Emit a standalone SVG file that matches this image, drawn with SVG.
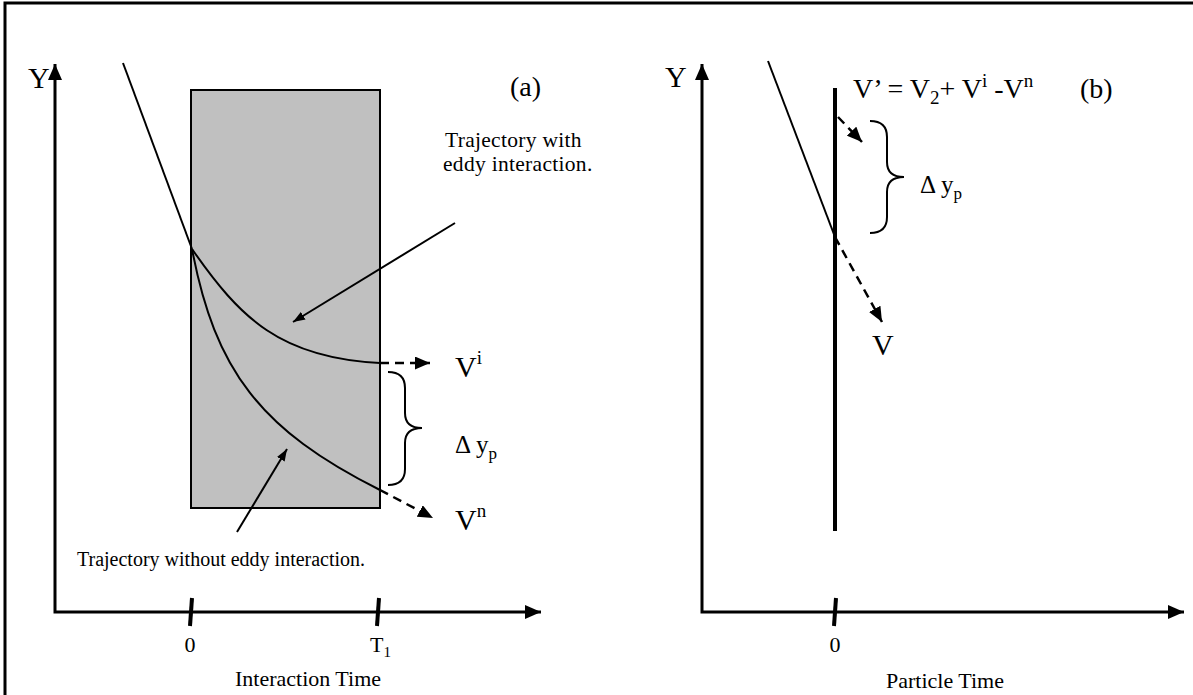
<svg xmlns="http://www.w3.org/2000/svg" width="1193" height="695" viewBox="0 0 1193 695">
<style>
.t{font-family:"Liberation Serif","Times New Roman",serif;fill:#000}
.ax{stroke:#000;stroke-width:3;fill:none}
.ln{stroke:#000;stroke-width:2;fill:none}
.ds{stroke:#000;stroke-width:2.5;fill:none;stroke-dasharray:9,6}
.tk{stroke:#000;stroke-width:4}
</style>
<defs>
<marker id="big" viewBox="0 0 16 14" refX="16" refY="7" markerWidth="16" markerHeight="14" markerUnits="userSpaceOnUse" orient="auto-start-reverse"><path d="M0,0 L16,7 L0,14 z" fill="#000"/></marker>
<marker id="mid" viewBox="0 0 15 13" refX="15" refY="6.5" markerWidth="15" markerHeight="13" markerUnits="userSpaceOnUse" orient="auto"><path d="M0,0 L15,6.5 L0,13 z" fill="#000"/></marker>
<marker id="sm" viewBox="0 0 12 9" refX="12" refY="4.5" markerWidth="12" markerHeight="9" markerUnits="userSpaceOnUse" orient="auto"><path d="M0,0 L12,4.5 L0,9 z" fill="#000"/></marker>
</defs>
<rect width="1193" height="695" fill="#fff"/>
<path d="M5,700 L5,3 L1200,3" class="ax"/>

<g id="panel-a">
<g id="axes-a">
<path d="M55,64 L55,612 L541,612" class="ax" marker-start="url(#big)" marker-end="url(#big)"/>
<line x1="192" y1="598" x2="190" y2="626" class="tk"/>
<line x1="379" y1="598" x2="377" y2="626" class="tk"/>
</g>
<rect id="interaction-zone" x="191" y="90" width="189" height="418" fill="#c0c0c0" stroke="#000" stroke-width="2"/>
<g id="trajectories-a">
<line x1="123" y1="63" x2="192" y2="249" class="ln"/>
<path d="M192,249 C240,318 280,358 380,363" class="ln"/>
<path d="M192,249 C215,370 260,430 380,490" class="ln"/>
<path d="M380,363 L430,363" class="ds" marker-end="url(#mid)"/>
<path d="M380,490 L433,518" class="ds" marker-end="url(#mid)"/>
<path d="M388,372 Q405,372 405,388 L405,413 Q405,428 422,428 Q405,428 405,443 L405,469 Q405,485 388,485" class="ln"/>
<line x1="455" y1="223" x2="293" y2="322" class="ln" marker-end="url(#sm)"/>
<line x1="237" y1="532" x2="287" y2="449" class="ln" marker-end="url(#sm)"/>
</g>
<g id="labels-a" class="t">
<text x="28" y="88" font-size="30">Y</text>
<text x="510" y="96" font-size="28">(a)</text>
<text x="445" y="147" font-size="21.5" letter-spacing="0.3">Trajectory with</text>
<text x="443" y="171" font-size="21.5" letter-spacing="0.3">eddy interaction.</text>
<text x="455" y="377" font-size="30">V<tspan font-size="19" dy="-13">i</tspan></text>
<text x="455" y="453" font-size="25">Δ y<tspan font-size="17" dy="6">p</tspan></text>
<text x="455" y="530" font-size="30">V<tspan font-size="19" dy="-13">n</tspan></text>
<text x="77" y="566" font-size="20">Trajectory without eddy interaction.</text>
<text x="190" y="652" font-size="22" text-anchor="middle">0</text>
<text x="370" y="652" font-size="22">T<tspan font-size="15" dy="5">1</tspan></text>
<text x="308" y="686" font-size="22" text-anchor="middle">Interaction Time</text>
</g>
</g>

<g id="panel-b">
<g id="axes-b">
<path d="M702,64 L702,612 L1184,612" class="ax" marker-start="url(#big)" marker-end="url(#big)"/>
<line x1="836" y1="598" x2="834" y2="626" class="tk"/>
</g>
<g id="trajectories-b">
<line x1="768" y1="61" x2="835" y2="237" class="ln"/>
<line x1="835" y1="88" x2="835" y2="531" stroke="#000" stroke-width="4"/>
<path d="M838,117 L862,142" class="ds" marker-end="url(#mid)"/>
<path d="M835,237 L882,322" class="ds" marker-end="url(#mid)"/>
<path d="M870,121 Q887,121 887,137 L887,162 Q887,177 904,177 Q887,177 887,192 L887,217 Q887,233 870,233" class="ln"/>
</g>
<g id="labels-b" class="t">
<text x="665" y="87" font-size="30">Y</text>
<text x="853" y="98" font-size="28">V’ = V<tspan font-size="19" dy="6">2</tspan><tspan dy="-6">+ V</tspan><tspan font-size="19" dy="-11">i</tspan><tspan dy="11"> -V</tspan><tspan font-size="19" dy="-11">n</tspan></text>
<text x="1080" y="98" font-size="28">(b)</text>
<text x="920" y="193" font-size="25">Δ y<tspan font-size="17" dy="6">p</tspan></text>
<text x="872" y="355" font-size="30">V</text>
<text x="835" y="652" font-size="22" text-anchor="middle">0</text>
<text x="945" y="688" font-size="22" text-anchor="middle">Particle Time</text>
</g>
</g>
</svg>
